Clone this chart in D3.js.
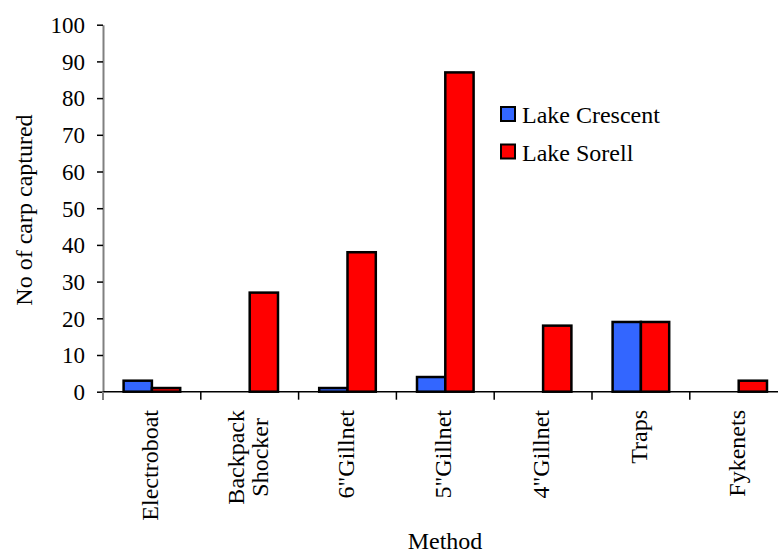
<!DOCTYPE html>
<html>
<head>
<meta charset="utf-8">
<script src="https://cdn.jsdelivr.net/npm/d3@7"></script>
<style>
  html, body { margin: 0; padding: 0; background: #fff; }
  svg { display: block; font-family: "Liberation Serif", "Times New Roman", serif; }
</style>
</head>
<body>
<svg id="chart" width="778" height="554"></svg>
<script>
// Carp captured by sampling method at two lakes
const methods = ["Electroboat", "Backpack\nShocker", "6\"Gillnet", "5\"Gillnet", "4\"Gillnet", "Traps", "Fykenets"];
const seriesNames = ["Lake Crescent", "Lake Sorell"];
const lakeCrescent = [3, 0, 1, 4, 0, 19, 0];
const lakeSorell = [1, 27, 38, 87, 18, 19, 3];
const yTicks = [0, 10, 20, 30, 40, 50, 60, 70, 80, 90, 100];
const colors = ["#3366FF", "#FF0000"];

const svg = d3.select("#chart");
const fontSize = 24;
const tickFontSize = 23;

const x0 = d3.scaleBand().domain(methods).range([103, 787.6]).paddingInner(0).paddingOuter(0);
const x1 = d3.scaleBand().domain(seriesNames).range([0, x0.bandwidth()]).paddingInner(0).paddingOuter(0.728);
const y = d3.scaleLinear().domain([0, 100]).range([391.7, 24.7]);

const rows = methods.map((m, i) => ({ method: m, values: [lakeCrescent[i], lakeSorell[i]] }));

// Bars
const groups = svg.append("g").selectAll("g")
  .data(rows).join("g")
  .attr("transform", d => `translate(${x0(d.method)},0)`);

groups.selectAll("rect")
  .data(d => d.values.map((v, k) => ({ key: seriesNames[k], value: v, k })))
  .join("rect")
  .filter(d => d.value > 0)
  .attr("x", d => x1(d.key))
  .attr("y", d => y(d.value))
  .attr("width", x1.bandwidth())
  .attr("height", d => y(0) - y(d.value))
  .attr("fill", d => colors[d.k])
  .attr("stroke", "#000")
  .attr("stroke-width", 2.5);

// Y axis
const yAxis = svg.append("g")
  .attr("transform", "translate(103,0)")
  .call(d3.axisLeft(y).tickValues(yTicks).tickSize(6).tickPadding(12).tickSizeOuter(0));
yAxis.select(".domain").attr("stroke", "#808080").attr("stroke-width", 2);
yAxis.selectAll(".tick line").attr("stroke", "#000").attr("stroke-width", 1.5);
yAxis.selectAll(".tick text")
  .attr("font-size", tickFontSize)
  .attr("font-family", "Liberation Serif")
  .attr("fill", "#000")
  .attr("dy", "0.34em");

// X axis line with ticks between categories
const xAxis = svg.append("g").attr("transform", `translate(0,${y(0)})`);
xAxis.append("line")
  .attr("x1", 103).attr("x2", 787.6)
  .attr("stroke", "#000").attr("stroke-width", 1.5);
xAxis.selectAll("line.sep")
  .data(methods)
  .join("line")
  .attr("class", "sep")
  .attr("x1", d => x0(d)).attr("x2", d => x0(d))
  .attr("y1", 0).attr("y2", 8)
  .attr("stroke", "#000").attr("stroke-width", 1.5);
svg.append("line")
  .attr("x1", 103).attr("x2", 103)
  .attr("y1", y(0)).attr("y2", y(0) + 8)
  .attr("stroke", "#808080").attr("stroke-width", 2);

// Rotated category labels, top-aligned under the axis
const labelTop = 410;
methods.forEach(m => {
  const lines = m.split("\n");
  const cx = x0(m) + x0.bandwidth() / 2;
  const lineH = fontSize * 1.02;
  const g = svg.append("g");
  const texts = lines.map((ln, j) => {
    const off = (j - (lines.length - 1) / 2) * lineH;
    return g.append("text")
      .attr("font-size", fontSize)
      .attr("fill", "#000")
      .attr("text-anchor", "middle")
      .attr("dy", "0.34em")
      .attr("data-off", off)
      .text(ln);
  });
  const maxW = d3.max(texts, t => t.node().getComputedTextLength());
  texts.forEach(t => {
    const off = +t.attr("data-off");
    t.attr("transform", `translate(${cx + off - 2},${labelTop + maxW / 2}) rotate(-90)`);
  });
});

// Axis titles
svg.append("text")
  .attr("transform", "translate(24,210) rotate(-90)")
  .attr("text-anchor", "middle")
  .attr("dy", "0.34em")
  .attr("font-size", fontSize)
  .attr("fill", "#000")
  .text("No of carp captured");

svg.append("text")
  .attr("x", 445)
  .attr("y", 549)
  .attr("text-anchor", "middle")
  .attr("font-size", fontSize)
  .attr("fill", "#000")
  .text("Method");

// Legend
const legend = svg.append("g").selectAll("g")
  .data(seriesNames).join("g")
  .attr("transform", (d, i) => `translate(501,${107 + i * 37.5})`);
legend.append("rect")
  .attr("width", 14).attr("height", 14)
  .attr("fill", (d, i) => colors[i])
  .attr("stroke", "#000").attr("stroke-width", 2);
legend.append("text")
  .attr("x", 21).attr("y", 16)
  .attr("font-size", fontSize)
  .attr("fill", "#000")
  .text(d => d);
</script>
</body>
</html>
